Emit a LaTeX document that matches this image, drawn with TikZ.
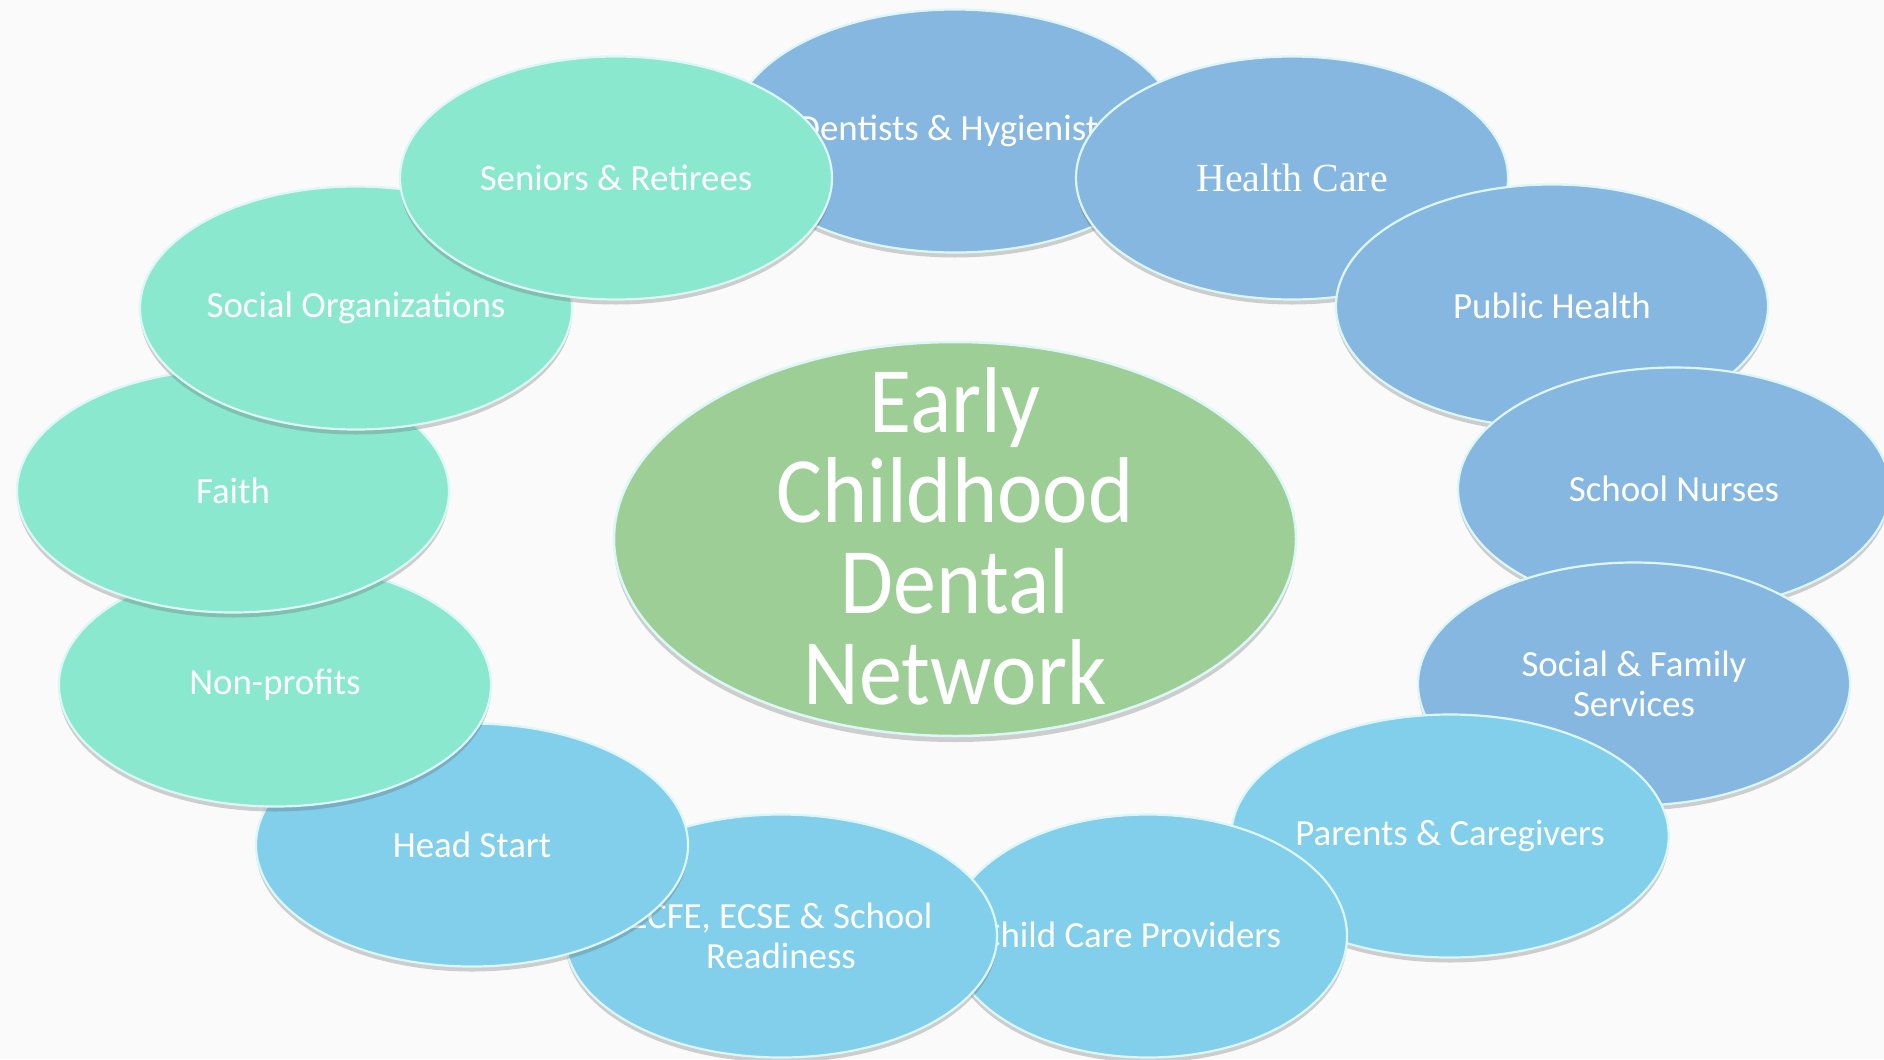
\documentclass[tikz,border=0pt]{standalone}
\usepackage{fontspec}
\setmainfont{Carlito}
\newfontfamily\serifhc{Liberation Serif}
\newfontfamily\bigfont[FakeStretch=0.92]{Carlito}
\usetikzlibrary{shapes.geometric,shadows}
\definecolor{topblue}{HTML}{86B7E1}
\definecolor{lowblue}{HTML}{82CFEC}
\definecolor{mint}{HTML}{8AE8CF}
\definecolor{centergreen}{HTML}{9CCE96}
\definecolor{rimcol}{HTML}{DDF6F8}
\definecolor{bgcol}{HTML}{FAFAFA}
\tikzset{
  bubble/.style={ellipse, inner sep=0pt, minimum width=432bp, minimum height=243bp,
    draw=rimcol, line width=2.2bp, text=white, align=center,
    font=\fontsize{37}{40}\selectfont,
    drop shadow={shadow xshift=0bp, shadow yshift=-5bp, opacity=0.3, fill=black!60}},
  bluebub/.style={bubble, fill=topblue},
  lowbub/.style={bubble, fill=lowblue},
  mintbub/.style={bubble, fill=mint},
  hub/.style={ellipse, inner sep=0pt, minimum width=682bp, minimum height=394bp,
    draw=rimcol, line width=2.5bp, fill=centergreen,
    drop shadow={shadow xshift=0bp, shadow yshift=-6bp, opacity=0.3, fill=black!60}},
  hubtext/.style={inner sep=0pt, text=white, align=center,
    font=\bigfont\fontsize{94}{91}\selectfont},
  bubtext/.style={inner sep=0pt, text=white, align=center,
    font=\fontsize{37}{40}\selectfont}
}
\begin{document}
\begin{tikzpicture}[x=1bp,y=-1bp]
\fill[bgcol] (0,0) rectangle (1884,1059);
\useasboundingbox (0,0) rectangle (1884,1059);
\begin{scope}
\clip (0,0) rectangle (1884,1059);
\node[bluebub] (dent) at (955,131) {Dentists \& Hygienists};
\node[bluebub, font=\serifhc\fontsize{40}{44}\selectfont] (hc) at (1292,178) {Health Care};
\node[bluebub] (ph) at (1552,306) {Public Health};
\node[bluebub] (sn) at (1674,489) {School Nurses};
\node[bluebub] (sfs) at (1634,684) {Social \& Family\\Services};
\node[lowbub] (par) at (1450,836) {Parents \& Caregivers};
\node[lowbub, minimum width=398bp] (ccp) at (1148,936) {};
\node[bubtext] (ccptext) at (1131,935) {Child Care Providers};
\node[lowbub] (ecfe) at (781,936) {ECFE, ECSE \& School\\Readiness};
\node[lowbub] (hs) at (472,845) {Head Start};
\node[mintbub] (np) at (275,685) {Non-profits};
\node[mintbub] (faith) at (233,491) {Faith};
\node[mintbub] (so) at (356,308) {Social Organizations};
\node[mintbub] (sr) at (616,178) {Seniors \& Retirees};
\node[hub] (hubnode) at (955,539) {};
\node[hubtext] (hubtxt) at (955,536) {Early\\Childhood\\Dental\\Network};
\end{scope}
\end{tikzpicture}
\end{document}
